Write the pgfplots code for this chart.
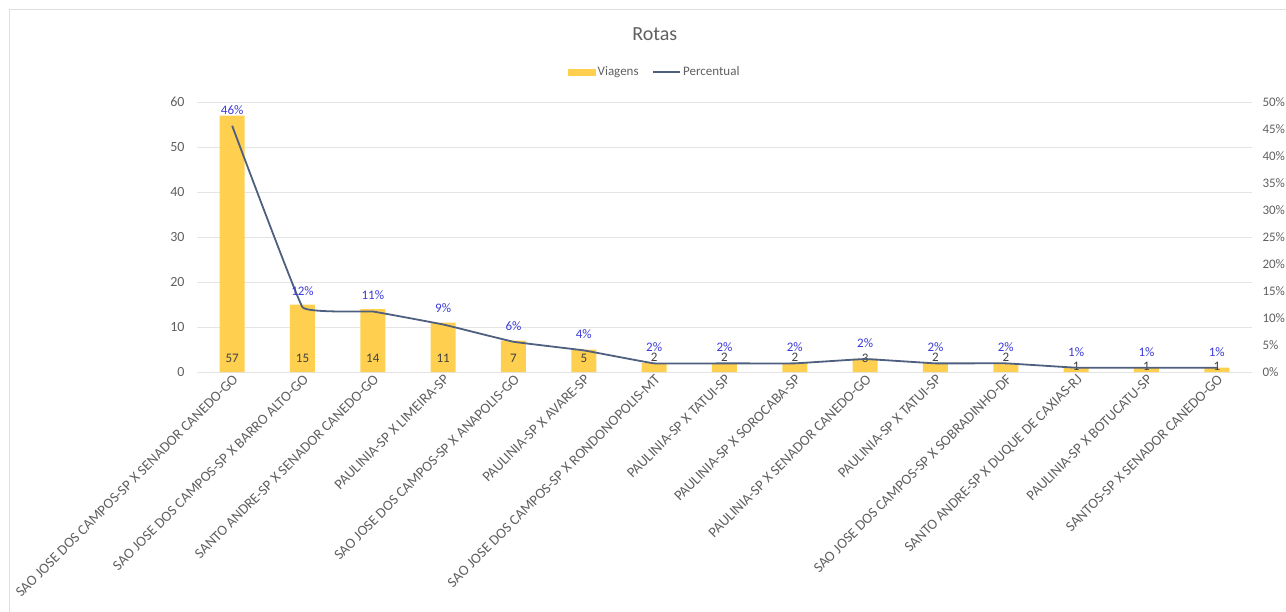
\documentclass[border=0pt]{standalone}
\usepackage{fontspec}
\setmainfont{Carlito}
\usepackage{pgfplots}
\usepackage{pgfplotstable}
\pgfplotsset{compat=1.18}
\pgfplotsset{/pgf/number format/assume math mode=true}
\definecolor{barc}{HTML}{FFCF4F}
\definecolor{linec}{HTML}{4F5F7F}
\definecolor{pctc}{HTML}{3A3AD8}
\definecolor{txt}{HTML}{5F5F5F}
\definecolor{lbl}{HTML}{404040}
\definecolor{gridc}{HTML}{E4E4E4}
\pgfplotstableread{
x v ly p pl
0 57 3.1 0.456 46
1 15 3.1 0.120 12
2 14 3.1 0.112 11
3 11 3.1 0.088 9
4 7 3.1 0.056 6
5 5 3.1 0.040 4
6 2 3.3 0.016 2
7 2 3.3 0.016 2
8 2 3.3 0.016 2
9 3 3.1 0.024 2
10 2 3.3 0.016 2
11 2 3.3 0.016 2
12 1 1.3 0.008 1
13 1 1.3 0.008 1
14 1 1.3 0.008 1
}\data
\begin{document}
\begin{tikzpicture}[font=\fontsize{13}{15}\selectfont]
\begin{axis}[
  at={(197pt,239pt)}, anchor=south west,
  scale only axis, width=1055pt, height=270pt,
  xmin=-0.5, xmax=14.5, ymin=0, ymax=60,
  ytick distance=10,
  axis x line*=bottom, axis y line*=left,
  y axis line style={draw=none},
  x axis line style={draw=gridc, line width=1pt, -},
  major tick length=0pt,
  ymajorgrids, grid style={gridc, line width=0.8pt},
  yticklabel style={text=txt, xshift=-9pt, font=\fontsize{14}{16}\selectfont},
  xtick={0,...,14},
  xticklabels={SAO JOSE DOS CAMPOS-SP X SENADOR CANEDO-GO,
    SAO JOSE DOS CAMPOS-SP X BARRO ALTO-GO,
    SANTO ANDRE-SP X SENADOR CANEDO-GO,
    PAULINIA-SP X LIMEIRA-SP,
    SAO JOSE DOS CAMPOS-SP X ANAPOLIS-GO,
    PAULINIA-SP X AVARE-SP,
    SAO JOSE DOS CAMPOS-SP X RONDONOPOLIS-MT,
    PAULINIA-SP X TATUI-SP,
    PAULINIA-SP X SOROCABA-SP,
    PAULINIA-SP X SENADOR CANEDO-GO,
    PAULINIA-SP X TATUI-SP,
    SAO JOSE DOS CAMPOS-SP X SOBRADINHO-DF,
    SANTO ANDRE-SP X DUQUE DE CAXIAS-RJ,
    PAULINIA-SP X BOTUCATU-SP,
    SANTOS-SP X SENADOR CANEDO-GO},
  xticklabel style={rotate=45, anchor=north east, text=txt,
    font=\fontsize{14.5}{16}\selectfont, inner sep=1pt},
  title={Rotas},
  title style={at={(0.434,1.23)}, anchor=center, text=txt,
    font=\fontsize{20}{22}\selectfont},
]
\addplot[ybar, bar width=25pt, fill=barc, draw=none] table[x=x,y=v]{\data};
\addplot[draw=none, mark=none, nodes near coords, point meta=explicit,
  every node near coord/.append style={anchor=center, text=lbl,
    font=\fontsize{13}{15}\selectfont}]
  table[x=x,y=ly,meta=v]{\data};
\end{axis}
\begin{axis}[
  at={(197pt,239pt)}, anchor=south west,
  scale only axis, width=1055pt, height=270pt,
  xmin=-0.5, xmax=14.5, ymin=0, ymax=0.5,
  ytick distance=0.05,
  axis y line*=right, axis x line=none,
  y axis line style={draw=none},
  major tick length=0pt,
  yticklabel={\pgfmathparse{\tick*100}\pgfmathprintnumber[fixed,precision=0]{\pgfmathresult}\%},
  yticklabel style={text=txt, xshift=7pt, font=\fontsize{13}{15}\selectfont},
  legend style={at={(0.434,1.111)}, anchor=center, draw=none, fill=none,
    legend columns=2, font=\fontsize{13}{15}\selectfont, text=txt,
    /tikz/every even column/.append style={column sep=12pt}},
  legend cell align=left,
]
\addlegendimage{legend image code/.code={\fill[barc] (0pt,-3pt) rectangle (27pt,3pt);}}
\addlegendentry{Viagens}
\addplot[linec, line width=1.8pt, smooth, tension=0.12, mark=none,
  nodes near coords={\pgfmathprintnumber[fixed,precision=0]{\pgfplotspointmeta}\%},
  point meta=explicit,
  every node near coord/.append style={anchor=center, yshift=16pt, text=pctc,
    font=\fontsize{13}{15}\selectfont},
  legend image code/.code={\draw[linec,line width=1.5pt] (0pt,0pt) -- (27pt,0pt);}]
  table[x=x,y=p,meta=pl]{\data};
\addlegendentry{Percentual}
\end{axis}
\draw[gray!25, line width=0.8pt] (9pt,-5pt) rectangle (1295pt,602pt);
\pgfresetboundingbox
\useasboundingbox (0,0) rectangle (1286pt,611pt);
\end{tikzpicture}
\end{document}
